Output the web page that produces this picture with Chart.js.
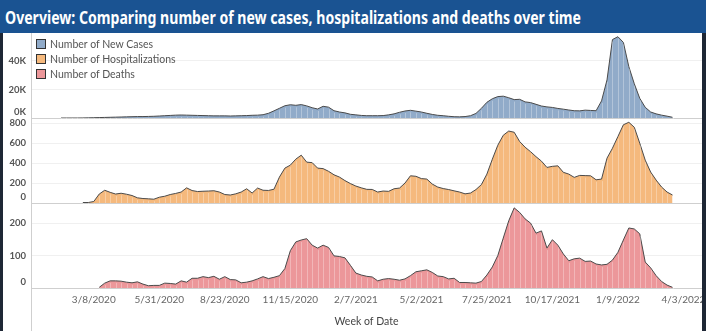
<!DOCTYPE html>
<html>
<head>
<meta charset="utf-8">
<script src="https://cdn.jsdelivr.net/npm/chart.js@4.4.1/dist/chart.umd.min.js"></script>
<style>
  html, body { margin: 0; padding: 0; }
  body { width: 706px; height: 331px; background: #1e2735; position: relative; overflow: hidden; font-family: Lato, sans-serif; }
  #header { position: absolute; left: 0; top: 0; width: 706px; height: 33px; background: #1a5392; }
  #header span { position: absolute; left: 5px; top: 6px; color: #fff; font: bold 17px 'Noto Sans', sans-serif; white-space: nowrap; transform-origin: 0 0; }
  #panel { position: absolute; left: 3px; top: 33px; width: 699px; height: 298px; background: #fff; }
  #legend { position: absolute; left: 33px; top: 3px; font: 10.5px Lato, sans-serif; color: #555; }
  #legend div { height: 15px; display: flex; align-items: center; }
  #legend i { display: inline-block; width: 8px; height: 8px; border: 1px solid #333; margin-right: 4px; }
</style>
</head>
<body>
<div id="header"><span id="headline">Overview: Comparing number of new cases, hospitalizations and deaths over time</span></div>
<div id="panel">
  <canvas id="overview" width="699" height="298"></canvas>
  <div id="legend"></div>
</div>
<script>
// weeks are counted from the week of 3/8/2020; the series start on the week of 1/26/2020
const FIRST_WEEK = -6;

const newCases = [
  0, 0, 0, 0, 50, 100,
  200, 300, 400, 500, 600, 700, 800, 900, 1000, 1000,
  1100, 1200, 1400, 1600, 1800, 2000, 2100, 2000, 1900, 1800,
  1700, 1600, 1500, 1500, 1500, 1400, 1500, 1600, 1700, 1900,
  2000, 2300, 3300, 5000, 6800, 8600, 9300, 8900, 9400, 8500,
  7200, 6300, 8200, 7600, 5100, 4200, 3600, 2600, 2200, 1800,
  1600, 1600, 1600, 1700, 2200, 2900, 4000, 4900, 5400, 4800,
  4200, 3300, 2500, 1900, 1600, 1200, 900, 800, 1000, 1600,
  3200, 6800, 11000, 13500, 15000, 15300, 14200, 12900, 13100, 11300,
  10800, 9600, 8400, 7800, 7400, 6700, 6200, 5600, 5100, 5000,
  5500, 5300, 5100, 12000, 26700, 55000, 57000, 53000, 36000, 24000,
  13800, 7500, 4200, 2900, 2000, 1300, 500
];

const hospitalizations = [
  null, null, null, null, 5, 5,
  15, 90, 128, 107, 90, 98, 88, 75, 52, 45,
  42, 38, 58, 68, 85, 96, 110, 152, 125, 115,
  118, 120, 123, 110, 85, 80, 92, 110, 143, 100,
  150, 128, 126, 138, 260, 350, 380, 440, 480, 410,
  405, 350, 345, 318, 283, 260, 225, 195, 170, 152,
  137, 136, 110, 120, 117, 143, 150, 200, 273, 268,
  245, 240, 190, 160, 145, 135, 122, 110, 92, 100,
  135, 185, 290, 440, 580, 680, 722, 710, 617, 560,
  515, 465, 420, 357, 368, 373, 308, 290, 257, 277,
  275, 273, 233, 240, 450, 550, 667, 785, 810, 760,
  600, 430, 310, 230, 160, 110, 80
];

const deaths = [
  null, null, null, null, null, null,
  null, 2, 15, 22, 22, 21, 18, 16, 19, 12,
  7, 8, 8, 15, 14, 12, 22, 18, 30, 30,
  35, 32, 36, 27, 35, 26, 25, 16, 18, 22,
  28, 35, 29, 33, 38, 60, 115, 142, 148, 152,
  132, 123, 132, 125, 99, 97, 93, 70, 46, 40,
  36, 34, 22, 27, 29, 27, 24, 28, 38, 50,
  53, 56, 48, 37, 35, 28, 30, 17, 17, 16,
  15, 20, 40, 65, 100, 154, 207, 247, 233, 213,
  200, 169, 176, 123, 149, 132, 105, 84, 90, 92,
  82, 83, 74, 71, 73, 86, 110, 148, 185, 182,
  167, 80, 62, 38, 20, 9, 2
];

const tickWeeks = [0, 12, 24, 36, 48, 60, 72, 84, 96, 108];
const tickLabels = ['3/8/2020', '5/31/2020', '8/23/2020', '11/15/2020', '2/7/2021',
  '5/2/2021', '7/25/2021', '10/17/2021', '1/9/2022', '4/3/2022'];

const caseTicks = [0, 20000, 40000];
const hospTicks = [0, 200, 400, 600, 800];
const deathTicks = [0, 100, 200];

const seriesNames = ['Number of New Cases', 'Number of Hospitalizations', 'Number of Deaths'];
const seriesColors = ['#91abc9', '#f5b97d', '#ec979a'];

const toPoints = arr => arr.map((v, i) => ({ x: FIRST_WEEK + i, y: v }));

// legend
const legend = document.getElementById('legend');
seriesNames.forEach((name, i) => {
  const row = document.createElement('div');
  const box = document.createElement('i');
  box.style.background = seriesColors[i];
  row.append(box, name);
  legend.append(row);
});

// faint seams at every week inside the filled areas
const weekSeams = {
  id: 'weekSeams',
  afterDatasetDraw(chart, args) {
    const meta = args.meta;
    const base = chart.scales[meta.yAxisID].getPixelForValue(0);
    const ctx = chart.ctx;
    ctx.save();
    ctx.strokeStyle = 'rgba(255,255,255,0.3)';
    ctx.lineWidth = 1;
    ctx.beginPath();
    meta.data.forEach(pt => {
      if (pt.skip) return;
      const x = Math.round(pt.x) + 0.5;
      ctx.moveTo(x, pt.y + 2);
      ctx.lineTo(x, base);
    });
    ctx.stroke();
    ctx.restore();
  }
};

// the left axis line runs on down through the date labels
const axisTail = {
  id: 'axisTail',
  afterDraw(chart) {
    const { ctx, chartArea } = chart;
    const x = Math.round(chartArea.left) + 0.5;
    ctx.save();
    ctx.strokeStyle = '#cfcfcf';
    ctx.beginPath();
    ctx.moveTo(x, chartArea.bottom);
    ctx.lineTo(x, chart.height);
    ctx.stroke();
    ctx.restore();
  }
};

const noPadding = scale => {
  scale.paddingTop = 0;
  scale.paddingBottom = 0;
  scale.paddingLeft = 0;
  scale.paddingRight = 0;
};

const panelAxis = (max, tickValues, fmt) => ({
  type: 'linear',
  position: 'left',
  stack: 'panels',
  stackWeight: 1,
  min: 0,
  max,
  afterBuildTicks: scale => { scale.ticks = tickValues.map(value => ({ value })); },
  afterFit: scale => { scale.width = 28; noPadding(scale); },
  border: { color: '#cfcfcf' },
  grid: {
    drawTicks: false,
    color: ctx => ctx.tick.value === 0 ? '#cfcfcf' : '#f0f0f0'
  },
  ticks: {
    autoSkip: false,
    padding: 5,
    color: '#555',
    font: { family: 'Lato', size: 9.5, weight: 'bold' },
    // the zero label sits just above the baseline
    callback: v => v === 0 ? [fmt(v), ''] : fmt(v)
  }
});

const areaSet = (label, data, color, axis) => ({
  label,
  data: toPoints(data),
  yAxisID: axis,
  borderColor: '#4a4a4a',
  borderWidth: 1,
  backgroundColor: color,
  fill: 'origin',
  pointRadius: 0,
  tension: 0
});

new Chart(document.getElementById('overview'), {
  type: 'line',
  data: {
    datasets: [
      areaSet(seriesNames[0], newCases, seriesColors[0], 'yCases'),
      areaSet(seriesNames[1], hospitalizations, seriesColors[1], 'yHosp'),
      areaSet(seriesNames[2], deaths, seriesColors[2], 'yDeaths')
    ]
  },
  options: {
    responsive: false,
    animation: false,
    layout: { padding: 0 },
    plugins: { legend: { display: false }, tooltip: { enabled: false } },
    scales: {
      x: {
        type: 'linear',
        min: -11.5,
        max: 111.4,
        afterBuildTicks: scale => { scale.ticks = tickWeeks.map(value => ({ value })); },
        afterFit: scale => { scale.height = 43; noPadding(scale); },
        border: { color: '#cfcfcf' },
        grid: { display: false, drawTicks: false },
        ticks: {
          autoSkip: false,
          maxRotation: 0,
          padding: 6,
          color: '#666',
          font: { family: 'Lato', size: 10 },
          callback: v => tickLabels[tickWeeks.indexOf(v)]
        },
        title: {
          display: true,
          text: 'Week of Date',
          color: '#444',
          font: { family: 'Lato', size: 10.5 },
          padding: { top: 0, bottom: 3 }
        }
      },
      // stacked panels: the last one listed is placed on top
      yDeaths: panelAxis(262, deathTicks, v => String(v)),
      yHosp: panelAxis(853, hospTicks, v => String(v)),
      yCases: panelAxis(59600, caseTicks, v => (v / 1000) + 'K')
    }
  },
  plugins: [weekSeams, axisTail]
});

// squeeze the headline into the header width
document.fonts.ready.then(() => {
  const head = document.getElementById('headline');
  const w = head.getBoundingClientRect().width;
  head.style.transform = `scaleX(${576 / w})`;
});
</script>
</body>
</html>
